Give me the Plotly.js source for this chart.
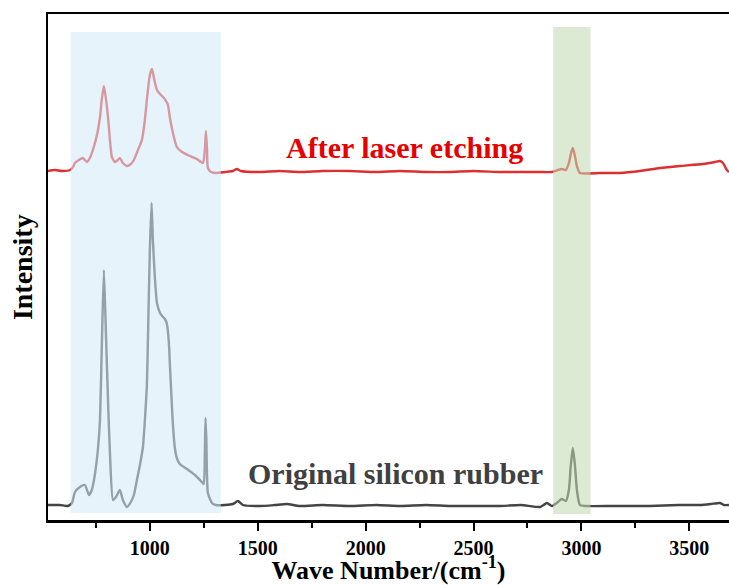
<!DOCTYPE html>
<html>
<head>
<meta charset="utf-8">
<script src="https://cdn.plot.ly/plotly-3.0.1.min.js"></script>
<style>html,body{margin:0;padding:0;background:#fff;}#chart{width:729px;height:585px;}</style>
</head>
<body>
<div id="chart"></div>
<script>
// Original silicon rubber spectrum (wavenumber, intensity a.u.)
const origWave = [523,583,620,639,653,676,699,718,731,745,759,769,778,787,796,806,815,829,843,861,875,894,912,926,940,954,968,977,986,991,1000,1008,1014,1024,1033,1047,1061,1070,1079,1088,1093,1102,1107,1116,1125,1139,1172,1209,1241,1250,1255,1258,1262,1269,1288,1306,1348,1385,1408,1431,1510,1580,1635,1695,1800,1927,2050,2159,2280,2391,2500,2622,2720,2808,2840,2863,2886,2909,2928,2942,2951,2960,2970,2979,2993,3016,3150,3317,3450,3549,3600,3642,3660,3684];
const origInt  = [15,15,14,17,28,33,35,25,30,45,70,100,180,250,190,120,67,20,23,30,20,13,18,25,40,55,73,100,133,180,270,317,280,240,217,207,203,201,196,178,155,115,95,72,62,56,51,45,38,36,70,102,80,27,17,15,15,16,19,15,14,15,16,14,15,14,15,14,15,14,14,14,15,13,17,14,17,21,19,30,55,72,55,30,15,14,14,14,15,15,16,17,15,15];
// After laser etching spectrum
const etchWave = [523,560,593,630,644,653,671,690,708,722,736,755,769,778,787,796,806,815,824,838,852,861,875,894,912,926,945,963,977,986,1000,1010,1019,1033,1047,1061,1075,1084,1093,1107,1125,1149,1186,1218,1246,1255,1260,1265,1269,1283,1306,1348,1385,1403,1422,1510,1600,1695,1800,1927,2050,2159,2280,2391,2500,2622,2720,2808,2863,2891,2909,2928,2942,2951,2960,2970,2979,2993,3086,3178,3271,3364,3456,3563,3619,3642,3656,3674,3684];
const etchInt  = [349,350,349,350,353,357,360,362,358,362,370,385,403,422,434,422,403,380,363,358,360,362,357,354,356,360,370,380,400,420,445,451,442,430,426,423,419,415,402,387,373,368,364,361,357,370,389,370,352,348,347,348,349,351,349,348,349,348,349,349,348,349,348,348,349,348,348,348,348,350,351,350,357,366,372,364,354,347,347,347,349,352,354,356,358,359,357,350,348];

const regionX0 = [633, 2869];
const regionX1 = [1329, 3042];
const regionY0 = [7, 6];
const regionY1 = [488, 493];
const regionColor = ['rgb(210,234,248)', 'rgb(194,218,176)'];

const xTickVals = [1000, 1500, 2000, 2500, 3000, 3500];
const labels = ['After laser etching', 'Original silicon rubber'];
const labelX = [2182, 2138];
const labelY = [373, 47];
const labelColor = ['#e60000', '#404040'];

const serif = '"Liberation Serif", "Times New Roman", serif';

const traces = [
  {x: origWave, y: origInt, type: 'scatter', mode: 'lines', line: {color: '#444444', width: 2.4, shape: 'spline', smoothing: 0.5}, hoverinfo: 'skip'},
  {x: etchWave, y: etchInt, type: 'scatter', mode: 'lines', line: {color: '#dc2f2f', width: 2.4, shape: 'spline', smoothing: 0.5}, hoverinfo: 'skip'}
];

const shapes = regionX0.map((x0, i) => ({
  type: 'rect', xref: 'x', yref: 'y', layer: 'above',
  x0: x0, x1: regionX1[i], y0: regionY0[i], y1: regionY1[i],
  fillcolor: regionColor[i], opacity: 0.56, line: {width: 0}
}));

const annotations = labels.map((t, i) => ({
  text: '<b>' + t + '</b>', x: labelX[i], y: labelY[i], xref: 'x', yref: 'y',
  showarrow: false, xanchor: 'center', yanchor: 'middle',
  font: {family: serif, size: 30, color: labelColor[i]}
}));
annotations.push({
  text: '<b>Intensity</b>', xref: 'paper', yref: 'paper', x: -0.038, y: 0.5,
  xanchor: 'center', yanchor: 'middle', textangle: -90, showarrow: false,
  font: {family: serif, size: 28, color: '#000'}
});

const layout = {
  width: 729, height: 585,
  margin: {l: 48, r: 0, t: 14, b: 65},
  paper_bgcolor: '#fff', plot_bgcolor: '#fff',
  showlegend: false,
  xaxis: {
    range: [528, 3684], showgrid: false, zeroline: false,
    showline: true, linecolor: '#000', linewidth: 2.5, mirror: true,
    ticks: 'outside', ticklen: 8, tickwidth: 2, tickcolor: '#000',
    tickvals: xTickVals, ticktext: xTickVals.map(v => '<b>' + v + '</b>'),
    ticklabelstandoff: 0,
    minor: {ticks: 'outside', ticklen: 5, tickwidth: 2, tickcolor: '#000', dtick: 250, tick0: 0, showgrid: false},
    tickfont: {family: serif, size: 20, color: '#000'},
    title: {text: '<b>Wave Number/(cm<sup>-1</sup>)</b>', font: {family: serif, size: 26, color: '#000'}, standoff: 2}
  },
  yaxis: {
    range: [0, 506], showgrid: false, zeroline: false,
    showline: true, linecolor: '#000', linewidth: 2.5, mirror: false,
    ticks: '', showticklabels: false
  },
  shapes: shapes,
  annotations: annotations
};

Plotly.newPlot('chart', traces, layout, {displayModeBar: false, staticPlot: true});
</script>
</body>
</html>
